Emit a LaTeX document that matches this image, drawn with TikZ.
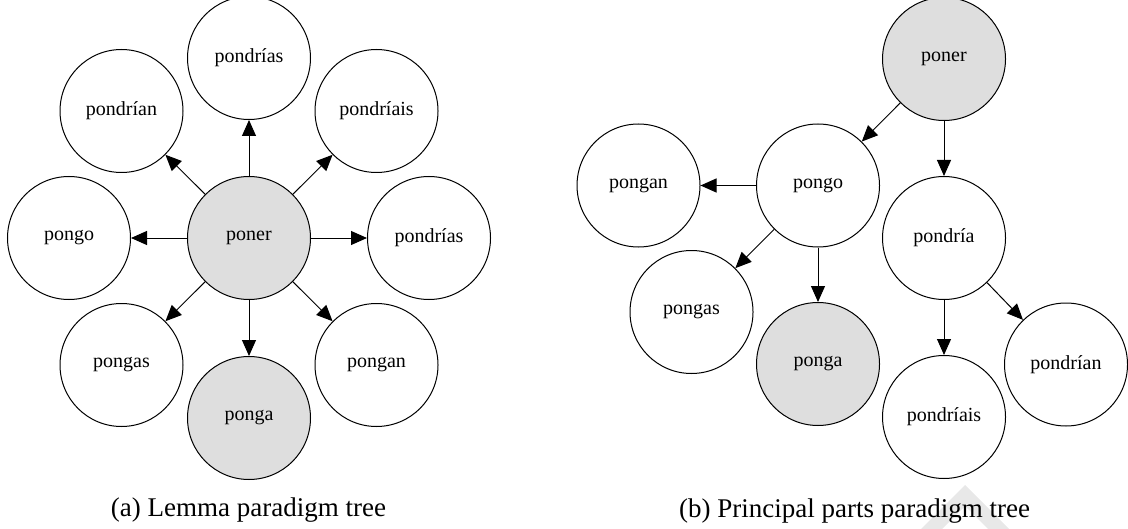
\documentclass[tikz,border=0pt]{standalone}
\usepackage{fontspec}
\setmainfont{Liberation Serif}
\usetikzlibrary{arrows.meta}
\definecolor{knowngray}{HTML}{DEDEDE}
\definecolor{markgray}{HTML}{E8E8E8}

\begin{document}
\begin{tikzpicture}[x=0.5pt, y=-0.5pt,
    form/.style={circle,draw,line width=0.5pt,minimum size=61.5pt,inner sep=0pt,font=\fontsize{10}{12}\selectfont},
    known/.style={form,fill=knowngray},
    edge/.style={line width=0.5pt,-{Triangle[length=8pt,width=7pt]}},
    caption/.style={anchor=base,font=\fontsize{13.5}{16}\selectfont}]
    \useasboundingbox (0,0) rectangle (1128,529);
    % (a) Lemma tree: lemma in the middle, all forms round it
    \node[known] (lemma) at (249,238) {poner};
    \node[form] (aN) at (249,58) {pondrías};
    \node[form] (aNW) at (121.5,111) {pondrían};
    \node[form] (aNE) at (376.5,111) {pondríais};
    \node[form] (aW) at (69,238) {pongo};
    \node[form] (aE) at (429,238) {pondrías};
    \node[form] (aSW) at (121.5,365) {pongas};
    \node[form] (aSE) at (376.5,365) {pongan};
    \node[known] (aS) at (249,418) {ponga};
    \foreach \leaf in {aN,aNW,aNE,aW,aE,aSW,aSE,aS}
        \draw[edge] (lemma) -- (\leaf);
    \node[caption] (capA) at (248.5,516) {(a) Lemma paradigm tree};
    % (b) Principal parts tree
    \node[known] (root) at (944,59) {poner};
    \node[form] (pongo) at (818,185.5) {pongo};
    \node[form] (pongan) at (638.5,185.5) {pongan};
    \node[form] (pondria) at (944,238) {pondría};
    \node[form] (pongas) at (691.5,312) {pongas};
    \node[known] (ponga) at (818,364) {ponga};
    \node[form] (pondriais) at (944,417) {pondríais};
    \node[form] (pondrian) at (1066,364.5) {pondrían};
    \draw[edge] (root) -- (pongo);
    \draw[edge] (root) -- (pondria);
    \draw[edge] (pongo) -- (pongan);
    \draw[edge] (pongo) -- (pongas);
    \draw[edge] (pongo) -- (ponga);
    \draw[edge] (pondria) -- (pondriais);
    \draw[edge] (pondria) -- (pondrian);
    % faint mark behind the second caption
    \fill[markgray] (965,485) -- (1009,529) -- (988,529) -- (965,506) -- (942,529) -- (921,529) -- cycle;
    \node[caption] (capB) at (854.5,517) {(b) Principal parts paradigm tree};
\end{tikzpicture}
\end{document}
